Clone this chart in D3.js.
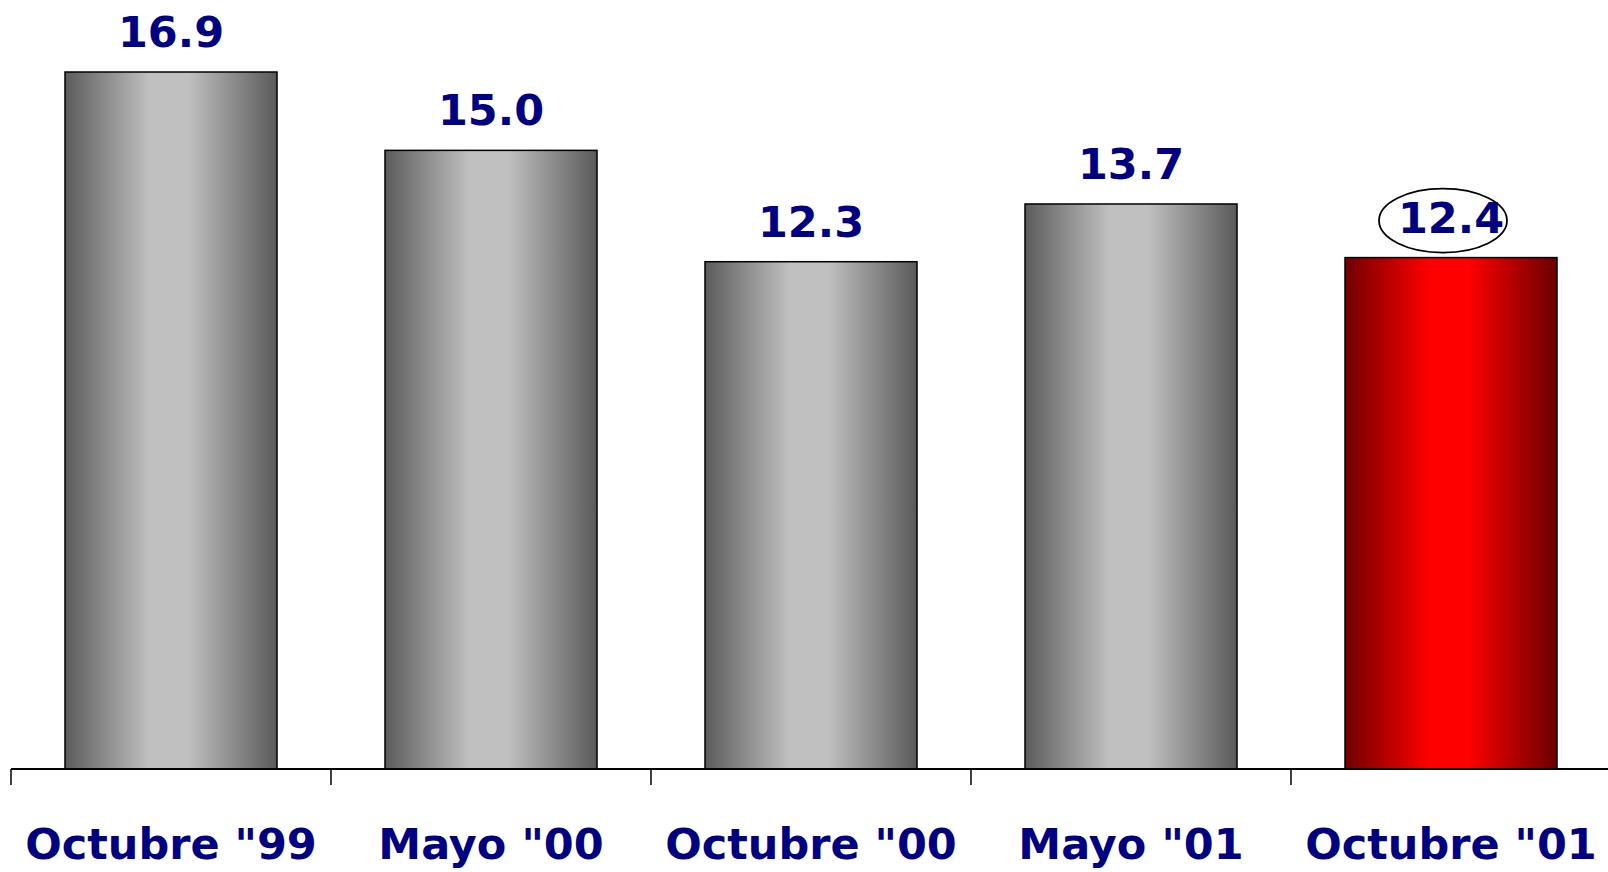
<!DOCTYPE html>
<html>
<head>
<meta charset="utf-8">
<script src="https://cdn.jsdelivr.net/npm/d3@7"></script>
<style>
html, body { margin: 0; padding: 0; background: #fff; }
svg { display: block; }
</style>
</head>
<body>
<svg id="chart" width="1608" height="872"></svg>
<script>
const categories = ['Octubre "99', 'Mayo "00', 'Octubre "00', 'Mayo "01', 'Octubre "01'];
const values = [16.9, 15.0, 12.3, 13.7, 12.4];
const highlighted = ['Octubre "01'];

const svg = d3.select("#chart");
const W = 1608, H = 872;
const axisY = 769;
const left = 11, right = 1611;

const y = d3.scaleLinear().domain([0, 16.9]).range([axisY, 72]);
const xOuter = d3.scaleBand().domain(categories).range([left, right]).padding(0);
const x = d3.scaleBand().domain(categories).range([left, right])
  .paddingInner(0.3375).paddingOuter(0.3375 / 2);

const defs = svg.append("defs");
function grad(id, edgeL, mid, edgeR) {
  const g = defs.append("linearGradient").attr("id", id)
    .attr("x1", "0%").attr("x2", "100%").attr("y1", "0%").attr("y2", "0%");
  g.append("stop").attr("offset", "0%").attr("stop-color", edgeL);
  g.append("stop").attr("offset", "40%").attr("stop-color", mid);
  g.append("stop").attr("offset", "58%").attr("stop-color", mid);
  g.append("stop").attr("offset", "100%").attr("stop-color", edgeR);
}
grad("gGray", "#5c5c5c", "#c0c0c0", "#5a5a5a");
grad("gRed", "#700000", "#ff0000", "#6a0000");

svg.append("g").selectAll("rect").data(categories).join("rect")
  .attr("x", d => x(d))
  .attr("y", (d, i) => y(values[i]))
  .attr("width", x.bandwidth())
  .attr("height", (d, i) => y(0) - y(values[i]))
  .attr("fill", d => highlighted.includes(d) ? "url(#gRed)" : "url(#gGray)")
  .attr("stroke", "#000").attr("stroke-width", 1.5);

// value labels
svg.append("g").selectAll("text").data(categories).join("text")
  .attr("x", d => x(d) + x.bandwidth() / 2)
  .attr("y", (d, i) => y(values[i]) - 25)
  .attr("text-anchor", "middle")
  .attr("font-family", "DejaVu Sans, Verdana, sans-serif")
  .attr("font-weight", "bold").attr("font-size", 43)
  .attr("fill", "#000080")
  .text((d, i) => values[i].toFixed(1));

// ellipse around highlighted value
svg.append("g").selectAll("ellipse").data(highlighted).join("ellipse")
  .attr("cx", d => x(d) + x.bandwidth() / 2 - 8)
  .attr("cy", d => y(values[categories.indexOf(d)]) - 37)
  .attr("rx", 64).attr("ry", 32)
  .attr("fill", "none").attr("stroke", "#000").attr("stroke-width", 1.8);

// axis line
svg.append("line").attr("x1", left).attr("x2", W).attr("y1", axisY).attr("y2", axisY)
  .attr("stroke", "#000").attr("stroke-width", 2);
// boundary ticks
svg.append("g").selectAll("line").data(categories).join("line")
  .attr("x1", d => xOuter(d)).attr("x2", d => xOuter(d))
  .attr("y1", axisY).attr("y2", axisY + 16)
  .attr("stroke", "#000").attr("stroke-width", 1.5);

// category labels
const ax = svg.append("g").attr("transform", `translate(0,${axisY})`)
  .call(d3.axisBottom(xOuter).tickSize(0).tickPadding(0));
ax.select(".domain").remove();
ax.selectAll("text")
  .attr("y", 90).attr("dy", 0)
  .attr("font-family", "DejaVu Sans, Verdana, sans-serif")
  .attr("font-weight", "bold").attr("font-size", 43)
  .attr("fill", "#000080");
</script>
</body>
</html>
